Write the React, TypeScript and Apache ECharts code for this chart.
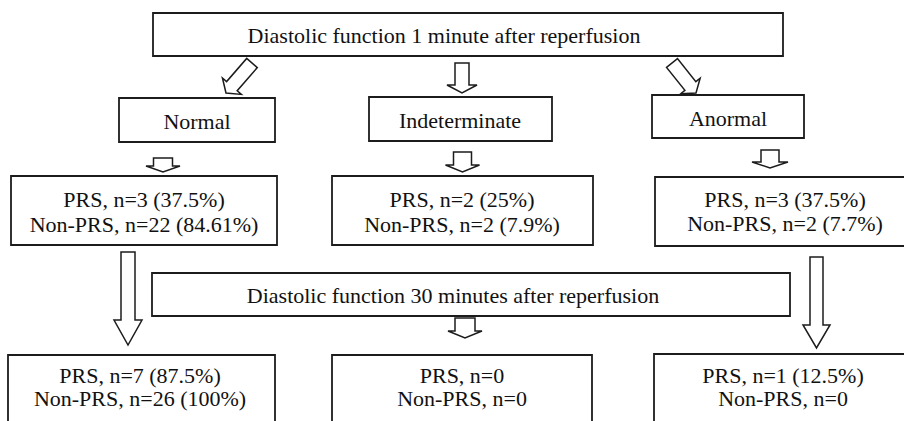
import React, { useEffect, useRef } from "react";
import * as echarts from "echarts";

// ---- data ----
const stageTitles = [
  "Diastolic function 1 minute after reperfusion",
  "Diastolic function 30 minutes after reperfusion",
];
const categories = ["Normal", "Indeterminate", "Anormal"];
const prs1n = [3, 2, 3];
const prs1pct = ["37.5%", "25%", "37.5%"];
const non1n = [22, 2, 2];
const non1pct = ["84.61%", "7.9%", "7.7%"];
const prs30n = [7, 0, 1];
const prs30pct = ["87.5%", "", "12.5%"];
const non30n = [26, 0, 0];
const non30pct = ["100%", "", ""];

// ---- layout ----
const STROKE = "#1c1c1c";
const LW = 1.8;
const FS = 22;
const FAMILY = "Liberation Serif";

type Box = [number, number, number, number];
const topBox: Box = [153, 13, 630, 43];
const catBoxes: Box[] = [
  [119, 98, 156, 44],
  [369, 97, 183, 44],
  [652, 95, 152, 43],
];
const catText: [number, number][] = [
  [197, 121],
  [460, 120],
  [728, 118],
];
const res1Boxes: Box[] = [
  [11, 176, 266, 69],
  [332, 176, 261, 69],
  [655, 177, 262, 69],
];
const res1Text: [number, number, number][] = [
  [144, 199, 224],
  [462, 199, 224],
  [785, 199, 223],
];
const midBox: Box = [152, 273, 638, 43];
const res30Boxes: Box[] = [
  [8, 355, 267, 90],
  [332, 355, 260, 90],
  [654, 354, 262, 90],
];
const res30Text: [number, number, number][] = [
  [140, 375, 398],
  [462, 375, 398],
  [783, 375, 398],
];

function label(name: string, n: number, pct: string) {
  return `${name}, n=${n}${pct ? ` (${pct})` : ""}`;
}

function arrow(
  tail: [number, number],
  tip: [number, number],
  stemHalf: number,
  headHalf: number,
  headLen: number
) {
  const dx = tip[0] - tail[0];
  const dy = tip[1] - tail[1];
  const L = Math.hypot(dx, dy);
  const ux = dx / L, uy = dy / L;
  const px = -uy, py = ux;
  const pt = (t: number, s: number) => [
    tail[0] + ux * t + px * s,
    tail[1] + uy * t + py * s,
  ];
  const hb = L - headLen;
  return [
    pt(0, -stemHalf),
    pt(0, stemHalf),
    pt(hb, stemHalf),
    pt(hb, headHalf),
    pt(L, 0),
    pt(hb, -headHalf),
    pt(hb, -stemHalf),
  ];
}

type ArrowSpec = [[number, number], [number, number], number, number, number];
const arrows: ArrowSpec[] = [
  [[252, 63], [226, 93], 7, 12.5, 9],
  [[462, 63], [462, 93], 7, 15, 8],
  [[672, 63], [696, 93], 7, 12.5, 9],
  [[163, 158], [163, 172], 9.5, 17, 6],
  [[462.5, 152], [462.5, 172], 9, 17, 7],
  [[770, 150], [770, 168], 9, 18, 6],
  [[128, 252], [128, 345], 7, 14, 25],
  [[816.5, 257], [816.5, 348], 6.5, 13.5, 23],
  [[465, 318], [465, 338], 10, 17, 7],
];

function rect(b: Box) {
  return {
    type: "rect",
    shape: { x: b[0], y: b[1], width: b[2], height: b[3] },
    style: { fill: "#fff", stroke: STROKE, lineWidth: LW },
    silent: true,
  };
}
function text(s: string, x: number, y: number) {
  return {
    type: "text",
    x,
    y,
    style: {
      text: s,
      fontSize: FS,
      fontFamily: FAMILY,
      fill: "#111",
      align: "center",
      verticalAlign: "middle",
    },
    silent: true,
  };
}

export default function App() {
  const ref = useRef<HTMLDivElement>(null);
  useEffect(() => {
    document.body.style.margin = "0";
    if (!ref.current) return;
    const chart = echarts.init(ref.current, undefined, { renderer: "svg" });
    const elements: any[] = [];
    elements.push(rect(topBox));
    elements.push(text(stageTitles[0], 444, 35));
    categories.forEach((c, i) => {
      elements.push(rect(catBoxes[i]));
      elements.push(text(c, catText[i][0], catText[i][1]));
      elements.push(rect(res1Boxes[i]));
      elements.push(text(label("PRS", prs1n[i], prs1pct[i]), res1Text[i][0], res1Text[i][1]));
      elements.push(text(label("Non-PRS", non1n[i], non1pct[i]), res1Text[i][0], res1Text[i][2]));
      elements.push(rect(res30Boxes[i]));
      elements.push(text(label("PRS", prs30n[i], prs30pct[i]), res30Text[i][0], res30Text[i][1]));
      elements.push(text(label("Non-PRS", non30n[i], non30pct[i]), res30Text[i][0], res30Text[i][2]));
    });
    elements.push(rect(midBox));
    elements.push(text(stageTitles[1], 453, 295));
    arrows.forEach((a) => {
      elements.push({
        type: "polygon",
        shape: { points: arrow(a[0], a[1], a[2], a[3], a[4]) },
        style: { fill: "#fff", stroke: STROKE, lineWidth: 1.5 },
        silent: true,
      });
    });
    chart.setOption({
      animation: false,
      backgroundColor: "#fff",
      graphic: { elements },
    });
    return () => chart.dispose();
  }, []);
  return <div ref={ref} style={{ width: 904, height: 421 }} />;
}
